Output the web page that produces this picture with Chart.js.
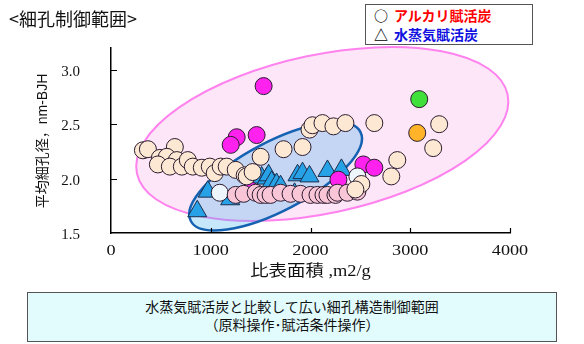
<!DOCTYPE html>
<html>
<head>
<meta charset="utf-8">
<script src="https://cdn.jsdelivr.net/npm/chart.js@4/dist/chart.umd.min.js"></script>
<style>
  body { margin: 0; background: #fff; }
  #wrap { position: relative; width: 584px; height: 344px; overflow: hidden; }
  #chart { position: absolute; left: 0; top: 0; }
  #title { position: absolute; left: 9px; top: 5px; font: 18px "Noto Sans CJK JP", sans-serif; color: #111; }
  #legend { position: absolute; left: 365px; top: 4px; width: 168px; height: 41px; border: 1px solid #555; background: #fff;
            font: bold 14px "Noto Sans CJK JP", sans-serif; line-height: 19px; box-sizing: border-box; padding: 1px 0 0 5px; }
  #legend .sym { color: #000; display: inline-block; width: 20px; text-align: center; margin-right: 3px; }
  #note { position: absolute; left: 27px; top: 292px; width: 530px; height: 50px; border: 1px solid #555; background: #e2fcfd;
          box-sizing: border-box; text-align: center; font: 14px "Noto Sans CJK JP", sans-serif; line-height: 18px; padding-top: 4px; color: #111; }
  .ylab { position: absolute; width: 40px; text-align: right; font: 15px "Liberation Serif", "Times New Roman", serif;
          line-height: 18px; color: #111; }
  #ytitle { position: absolute; white-space: nowrap; font: 14px "Liberation Sans", "Noto Sans CJK JP", sans-serif; color: #111;
            line-height: 16px; transform: translate(-50%, -50%) rotate(-90deg); }
</style>
</head>
<body>
<div id="wrap">
  <canvas id="chart" width="584" height="344"></canvas>
  <div id="title">&lt;細孔制御範囲&gt;</div>
  <div id="legend">
    <div><span class="sym">○</span><span style="color:#ff0000">アルカリ賦活炭</span></div>
    <div><span class="sym">△</span><span style="color:#1010e0">水蒸気賦活炭</span></div>
  </div>
  <div id="note">水蒸気賦活炭と比較して広い細孔構造制御範囲<br>（原料操作･賦活条件操作）</div>
</div>
<script>
// specific surface area (m2/g) vs mean pore diameter (nm, BJH)
var xTicks = [0, 1000, 2000, 3000, 4000];
var yTicks = [1.5, 2.0, 2.5, 3.0];
var xTitle = "比表面積 ,m2/g";
var yTitle = "平均細孔径，nm-BJH";

// alkali activated carbons
var creamPts = [
  [320, 2.26], [370, 2.27], [640, 2.29], [490, 2.19], [560, 2.20], [660, 2.17],
  [470, 2.13], [590, 2.11], [710, 2.11], [770, 2.17], [820, 2.11], [910, 2.10],
  [990, 2.11], [1040, 2.05], [1100, 2.11], [1160, 2.11],
  [1250, 2.08], [1340, 2.03], [1360, 2.02], [1420, 2.06], [1500, 2.20],
  [1730, 2.27], [1920, 2.29], [1990, 2.45], [2020, 2.49], [2120, 2.51],
  [2230, 2.48], [2350, 2.51], [2640, 2.51], [3290, 2.50], [3230, 2.28],
  [2870, 2.17], [2810, 2.02], [2510, 1.95], [2450, 1.90]
];
var pinkPts = [
  [1250, 1.85], [1330, 1.86], [1450, 1.87], [1500, 1.85], [1550, 1.85],
  [1600, 1.85], [1700, 1.87], [1800, 1.86], [1900, 1.86], [2000, 1.85],
  [2070, 1.85], [2130, 1.85], [2170, 1.85], [2250, 1.85], [2270, 1.87],
  [2370, 1.87], [2470, 1.88]
];
var whitePts = [[1090, 1.87], [2470, 2.02]];
var magentaPts = [
  [1530, 2.85], [1260, 2.38], [1200, 2.31], [1460, 2.40], [1400, 1.89],
  [2280, 1.99], [2530, 2.13], [2640, 2.10]
];
var greenPts = [[3090, 2.73]];
var orangePts = [[3070, 2.42]];

// steam activated carbons
var steamPts = [
  [865, 1.70], [970, 1.88], [1195, 1.81], [1510, 2.01], [1560, 2.00],
  [1580, 2.03], [1610, 1.97], [1660, 1.95], [1700, 1.93], [1840, 1.86],
  [1870, 2.03], [1920, 2.05], [1990, 2.02], [2170, 2.07], [2310, 2.08]
];

// control ranges: centre, end of major axis, minor/major ratio
var alkaliRange = { cx: 2118, cy: 2.41, ax: 3976, ay: 2.773, ratio: 0.418 };
var steamRange = { cx: 1650, cy: 2.02, ax: 2500, ay: 2.43, ratio: 0.36 };

function pts(list) {
  return list.map(function (p) { return { x: p[0], y: p[1] }; });
}

function circles(list, fill) {
  return {
    data: pts(list), pointStyle: "circle", pointRadius: 8.5, pointHoverRadius: 8.5,
    backgroundColor: fill, borderColor: "#2b1c30", borderWidth: 1
  };
}

function ellipsePath(ctx, xs, ys, e) {
  var cx = xs.getPixelForValue(e.cx), cy = ys.getPixelForValue(e.cy);
  var ex = xs.getPixelForValue(e.ax), ey = ys.getPixelForValue(e.ay);
  var a = Math.hypot(ex - cx, ey - cy);
  var ang = Math.atan2(ey - cy, ex - cx);
  ctx.beginPath();
  ctx.ellipse(cx, cy, a, a * e.ratio, ang, 0, 2 * Math.PI);
}

var steamIndex = 6;
var serif = "'Times New Roman', 'Liberation Serif', serif";

var rangePlugin = {
  id: "ranges",
  beforeDatasetsDraw: function (chart) {
    var ctx = chart.ctx;
    ctx.save();
    ellipsePath(ctx, chart.scales.x, chart.scales.y, alkaliRange);
    ctx.fillStyle = "#fde6f7";
    ctx.fill();
    ctx.lineWidth = 2;
    ctx.strokeStyle = "#ff82ee";
    ctx.stroke();
    ctx.restore();
  },
  beforeDatasetDraw: function (chart, args) {
    if (args.index !== steamIndex) return;
    var ctx = chart.ctx;
    ctx.save();
    ellipsePath(ctx, chart.scales.x, chart.scales.y, steamRange);
    ctx.fillStyle = "rgba(70, 180, 240, 0.3)";
    ctx.fill();
    ctx.lineWidth = 2.5;
    ctx.strokeStyle = "#1662b2";
    ctx.stroke();
    ctx.restore();
  },
  afterDraw: function (chart) {
    var ctx = chart.ctx, xs = chart.scales.x, ys = chart.scales.y, area = chart.chartArea;
    ctx.save();

    // inward tick marks
    ctx.strokeStyle = "#000";
    ctx.lineWidth = 1.2;
    ctx.beginPath();
    xTicks.forEach(function (v) {
      if (v === xTicks[0]) return;
      var px = Math.round(xs.getPixelForValue(v)) + 0.5;
      ctx.moveTo(px, area.bottom);
      ctx.lineTo(px, area.bottom - 5);
    });
    yTicks.forEach(function (v) {
      if (v === yTicks[0]) return;
      var py = Math.round(ys.getPixelForValue(v)) + 0.5;
      ctx.moveTo(area.left, py);
      ctx.lineTo(area.left + 6, py);
    });
    ctx.stroke();

    ctx.fillStyle = "#111";
    ctx.textBaseline = "middle";

    // x tick labels, drawn slightly widened
    ctx.font = "14px " + serif;
    ctx.textAlign = "center";
    xTicks.forEach(function (v) {
      ctx.save();
      ctx.translate(xs.getPixelForValue(v), area.bottom + 18);
      ctx.scale(1.3, 1);
      ctx.fillText(String(v), 0, 0);
      ctx.restore();
    });

    // x axis title
    ctx.save();
    ctx.translate((area.left + area.right) / 2, area.bottom + 39);
    ctx.scale(1.15, 1);
    ctx.textAlign = "center";
    ctx.font = "16px " + serif + ", 'Noto Sans CJK JP'";
    ctx.fillText(xTitle, 0, 0);
    ctx.restore();

    ctx.restore();
  }
};

var chart = new Chart(document.getElementById("chart"), {
  type: "scatter",
  data: {
    datasets: [
      circles(creamPts, "#fde9d3"),
      circles(pinkPts, "#f8c6d6"),
      circles(whitePts, "#eef6fc"),
      circles(magentaPts, "#ff22ee"),
      circles(greenPts, "#3fe03a"),
      circles(orangePts, "#ffb328"),
      {
        data: pts(steamPts), pointStyle: "triangle", pointRadius: 11, pointHoverRadius: 11,
        backgroundColor: "#28a2e6", borderColor: "#1b2d4d", borderWidth: 1
      }
    ]
  },
  options: {
    responsive: false,
    animation: false,
    devicePixelRatio: 1,
    layout: { padding: { left: 0, right: 74, top: 48, bottom: 59 } },
    plugins: { legend: { display: false }, tooltip: { enabled: false } },
    scales: {
      x: {
        type: "linear", min: 0, max: 4000,
        afterFit: function (s) { s.height = 52; },
        afterBuildTicks: function (s) { s.ticks = xTicks.map(function (v) { return { value: v }; }); },
        grid: { display: false, drawTicks: false },
        border: { display: true, color: "#000", width: 1.5 },
        ticks: { callback: function () { return ""; } },
        title: { display: false }
      },
      y: {
        type: "linear", min: 1.5, max: 3.2,
        afterFit: function (s) { s.width = 111; },
        afterBuildTicks: function (s) { s.ticks = yTicks.map(function (v) { return { value: v }; }); },
        grid: { display: false, drawTicks: false },
        border: { display: true, color: "#000", width: 1.5 },
        ticks: { callback: function () { return ""; } },
        title: { display: false }
      }
    }
  },
  plugins: [rangePlugin]
});

// y tick labels and y title as page text, placed from the y scale
var wrap = document.getElementById("wrap");
var ys = chart.scales.y, area = chart.chartArea;
yTicks.forEach(function (v) {
  var el = document.createElement("div");
  el.className = "ylab";
  el.textContent = v.toFixed(1);
  el.style.left = (area.left - 31 - 40) + "px";
  el.style.top = (ys.getPixelForValue(v) - 8) + "px";
  wrap.appendChild(el);
});
var yt = document.createElement("div");
yt.id = "ytitle";
yt.textContent = yTitle;
yt.style.left = (area.left - 69) + "px";
yt.style.top = ((area.top + area.bottom) / 2) + "px";
wrap.appendChild(yt);
</script>
</body>
</html>
